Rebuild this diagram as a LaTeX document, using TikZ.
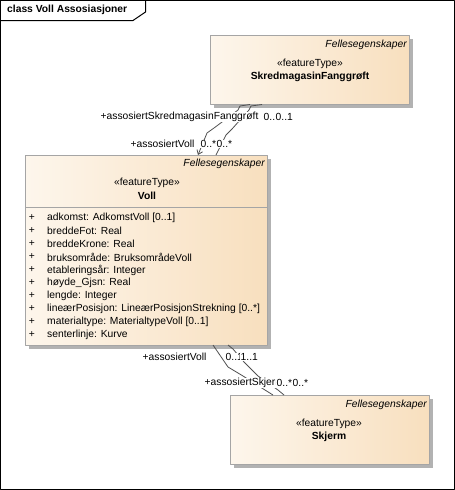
\documentclass[tikz,border=0pt]{standalone}
\usepackage{fontspec}
\setmainfont{Liberation Sans}
\usetikzlibrary{arrows.meta,shadows}
\definecolor{boxleft}{RGB}{253,246,236}
\definecolor{boxright}{RGB}{248,223,190}
\definecolor{boxline}{RGB}{165,165,165}
\definecolor{shadowgray}{RGB}{178,178,178}
\definecolor{linkgray}{RGB}{80,80,80}

\begin{document}
\begin{tikzpicture}[x=1pt, y=-1pt, line join = round,
  font=\fontsize{10.3}{12}\selectfont,
  classbox/.style={draw=boxline, line width=1pt, left color=boxleft, right color=boxright,
    inner sep=0pt, anchor=north west,
    drop shadow={shadow xshift=3pt, shadow yshift=-3pt, fill=shadowgray, opacity=1}},
  pkgname/.style={font=\fontsize{10.3}{12}\selectfont\itshape, anchor=east, inner sep=0pt},
  stereo/.style={inner sep=0pt},
  classname/.style={font=\fontsize{10.3}{12}\selectfont\bfseries, inner sep=0pt},
  rolelabel/.style={anchor=west, fill=white, inner sep=0.5pt},
  link/.style={draw=linkgray, line width=0.8pt}]
\useasboundingbox (0,0) rectangle (455,490);

% frame and title tab
\draw[line width=1pt] (0.5,0.5) rectangle (454.5,489.5);
\draw[line width=1pt] (0,20.5) -- (133,20.5) -- (145.5,12) -- (145.5,0);
\node[classname, anchor=west] (title) at (7,10) {class Voll Assosiasjoner};

% classes
\node[classbox, minimum width=199pt, minimum height=69pt] (skred) at (210,35) {};
\node[pkgname] (skredpkg) at (407,45) {Fellesegenskaper};
\node[stereo] (skredstereo) at (310,64) {«featureType»};
\node[classname] (skredname) at (310,77) {SkredmagasinFanggrøft};

\node[classbox, minimum width=242pt, minimum height=190pt] (voll) at (25,155) {};
\draw[draw=boxline, line width=1pt] ([yshift=-52pt]voll.north west) -- ([yshift=-52pt]voll.north east);
\node[pkgname] (vollpkg) at (265,164) {Fellesegenskaper};
\node[stereo] (vollstereo) at (147,183) {«featureType»};
\node[classname] (vollname) at (147,196) {Voll};
\foreach \attr [count=\i from 0] in {{adkomst: AdkomstVoll [0..1]}, {breddeFot: Real},
    {breddeKrone: Real}, {bruksområde: BruksområdeVoll}, {etableringsår: Integer},
    {høyde\_Gjsn: Real}, {lengde: Integer}, {lineærPosisjon: LineærPosisjonStrekning [0..*]},
    {materialtype: MaterialtypeVoll [0..1]}, {senterlinje: Kurve}}
{
    \node[inner sep=0pt] (plus\i) at (32,{218+13*\i}) {+};
    \node[inner sep=0pt, anchor=west] (attr\i) at (47,{218+13*\i}) {\attr};
}

\node[classbox, minimum width=199pt, minimum height=69pt] (skjerm) at (230,395) {};
\node[pkgname] (skjermpkg) at (427,405) {Fellesegenskaper};
\node[stereo] (skjermstereo) at (329,424) {«featureType»};
\node[classname] (skjermname) at (329,437) {Skjerm};

% bend points of the associations
\coordinate (ta1) at (250,104.5);
\coordinate (ta2) at (240,106);
\coordinate (ta3) at (238,110);
\coordinate (ta4) at (214,128);
\coordinate (ta5) at (207,133);
\coordinate (ta6) at (198,155);

\coordinate (tb1) at (262,104.5);
\coordinate (tb2) at (251,106);
\coordinate (tb3) at (249,110);
\coordinate (tb4) at (232,129);
\coordinate (tb5) at (226,135);
\coordinate (tb6) at (216,155);

\coordinate (ba1) at (213,345);
\coordinate (ba2) at (228,367);
\coordinate (ba3) at (243,376);
\coordinate (ba4) at (265,390);
\coordinate (ba5) at (273,395);

\coordinate (bb1) at (228,345);
\coordinate (bb2) at (233,349);
\coordinate (bb3) at (244,362);
\coordinate (bb4) at (258,376);
\coordinate (bb5) at (278,390);
\coordinate (bb6) at (284,395);

\draw[link, -{Straight Barb[length=4pt, width=6pt]}] (ta1) -- (ta2) -- (ta3) -- (ta4) -- (ta5) -- (ta6);
\draw[link] (tb1) -- (tb2) -- (tb3) -- (tb4) -- (tb5) -- (tb6);
\draw[link] (ba1) -- (ba2) -- (ba3) -- (ba4) -- (ba5);
\draw[link] (bb1) -- (bb2) -- (bb3) -- (bb4) -- (bb5) -- (bb6);

% role names and multiplicities
\node[rolelabel] (roleskred) at (100,117) {+assosiertSkredmagasinFanggrøft};
\node[rolelabel] (multskredA) at (263,117) {0..1};
\node[rolelabel] (multskredB) at (275,117) {0..1};
\node[rolelabel] (rolevollA) at (130,144) {+assosiertVoll};
\node[rolelabel] (multvollA) at (200,144) {0..*};
\node[rolelabel] (multvollB) at (216,144) {0..*};
\node[rolelabel] (rolevollB) at (142,357) {+assosiertVoll};
\node[rolelabel] (multvollC) at (225,357) {0..1};
\node[rolelabel] (multvollD) at (240,357) {1..1};
\node[rolelabel] (roleskjerm) at (204,383) {+assosiertSkjerm};
\node[rolelabel] (multskjermB) at (292,383) {0..*};
\node[rolelabel] (multskjermA) at (276,383) {0..*};

\end{tikzpicture}
\end{document}
